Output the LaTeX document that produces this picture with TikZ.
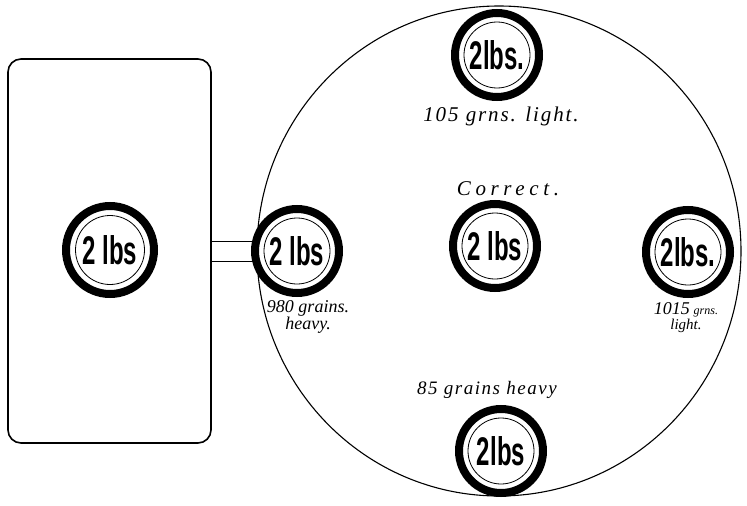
\documentclass[tikz,border=0pt]{standalone}
\usepackage{fontspec}
\setmainfont{Liberation Serif}
\newfontfamily\lbsfont{Liberation Sans}
\usetikzlibrary{backgrounds}
\newcommand\wlbl[1]{\scalebox{0.6}[1]{#1}}
\begin{document}
\begin{tikzpicture}[x=1pt,y=-1pt,
  ring/.style={circle, draw, line width=8pt, fill=white, minimum size=84pt, inner sep=0pt},
  wt/.style={circle, draw, line width=0.8pt, minimum size=66pt, inner sep=0pt,
    font=\lbsfont\bfseries\fontsize{40}{40}\selectfont},
  lbl/.style={font=\itshape\fontsize{20}{20}\selectfont, inner sep=0pt},
  slbl/.style={font=\itshape\fontsize{18}{15}\selectfont, inner sep=0pt, align=center},
  conn/.style={line width=1pt},
  plate/.style={line width=1.1pt},
  box/.style={draw, line width=1.6pt, rounded corners=13pt, minimum width=203pt,
    minimum height=384pt, inner sep=0pt}]
\useasboundingbox (0,0) rectangle (747,506);
% big plate circle
\draw[plate] (499,251) ellipse [x radius=242, y radius=245];
% scale box
\node[box] (box) at (109.5,251) {};
% weights
\node[ring, minimum size=88pt] (r0) at (110,250) {};
\node[wt, minimum size=69pt] (w0) at (r0) {\wlbl{2 lbs}};
\node[ring] (r1) at (297,251) {};
\node[wt] (w1) at (r1) {\wlbl{2 lbs}};
\node[ring] (r2) at (497,55) {};
\node[wt] (w2) at (r2) {\wlbl{2lbs.}};
\node[ring] (r3) at (495,246) {};
\node[wt] (w3) at (r3) {\wlbl{2 lbs}};
\node[ring] (r4) at (688,252) {};
\node[wt] (w4) at (r4) {\wlbl{2lbs.}};
\node[ring] (r5) at (501,451) {};
\node[wt] (w5) at (r5) {\wlbl{2lbs}};
% connectors (under the rings)
\begin{scope}[on background layer]
\draw[conn] ([yshift=-10pt]box.east) -- ([yshift=-10pt]box.east -| w1.center);
\draw[conn] ([yshift=10pt]box.east) -- ([yshift=10pt]box.east -| w1.center);
\end{scope}
% labels
\node[lbl, font=\itshape\fontsize{21}{21}\selectfont\addfontfeature{LetterSpace=9}] (t2) at (501,116) {105 grns. light.};
\node[lbl, font=\itshape\fontsize{21}{21}\selectfont\addfontfeature{LetterSpace=22}] (t3) at (508,189) {Correct.};
\node[slbl] (t1) at (308,317) {980 grains.\\heavy.};
\node[slbl, font=\itshape\fontsize{15}{15}\selectfont] (t4) at (686,318) {{\fontsize{18}{18}\selectfont 1015} {\fontsize{12}{12}\selectfont grns.}\\light.};
\node[lbl, font=\itshape\fontsize{19}{19}\selectfont\addfontfeature{LetterSpace=8}] (t5) at (487,390) {85 grains heavy};
\end{tikzpicture}
\end{document}
